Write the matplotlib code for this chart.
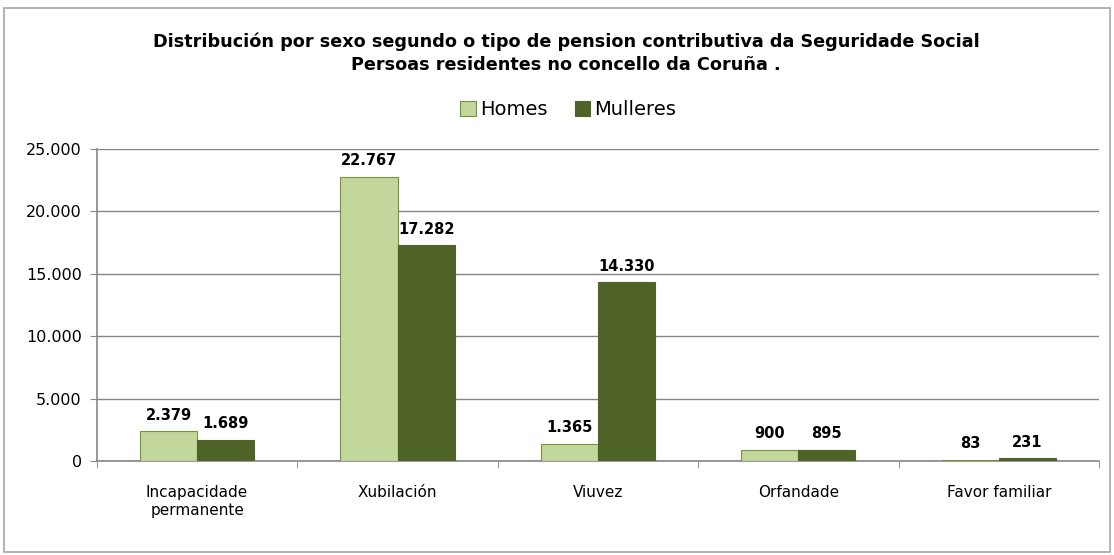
import matplotlib.pyplot as plt
import numpy as np
from matplotlib.patches import Rectangle

categories = ['Incapacidade\npermanente', 'Xubilación', 'Viuvez', 'Orfandade', 'Favor familiar']
homes = [2379, 22767, 1365, 900, 83]
mulleres = [1689, 17282, 14330, 895, 231]
labels_h = ['2.379', '22.767', '1.365', '900', '83']
labels_m = ['1.689', '17.282', '14.330', '895', '231']
yticks = [0, 5000, 10000, 15000, 20000, 25000]
ytick_labels = ['0', '5.000', '10.000', '15.000', '20.000', '25.000']

c_homes = '#C3D69B'
c_homes_edge = '#76923C'
c_mull = '#4F6228'
grid_c = '#868686'

fig = plt.figure(figsize=(11.14, 5.55), dpi=100)
# outer frame of the chart
fig.patches.append(Rectangle((0.004, 0.005), 0.992, 0.98, transform=fig.transFigure,
                             fill=False, edgecolor='#a6a6a6', linewidth=1.2))

ax = fig.add_axes([0.087, 0.169, 0.8995, 0.5625])
x = np.arange(len(categories))
w = 0.285
ax.bar(x - w / 2, homes, w, color=c_homes, edgecolor=c_homes_edge, linewidth=0.8, label='Homes', zorder=3)
ax.bar(x + w / 2, mulleres, w, color=c_mull, edgecolor=c_mull, linewidth=0.8, label='Mulleres', zorder=3)

for i in range(len(categories)):
    ax.text(x[i] - w / 2, homes[i] + 700, labels_h[i], ha='center', va='bottom',
            fontsize=10.5, fontweight='bold')
    ax.text(x[i] + w / 2, mulleres[i] + 700, labels_m[i], ha='center', va='bottom',
            fontsize=10.5, fontweight='bold')

ax.set_xlim(-0.5, len(categories) - 0.5)
ax.set_ylim(0, 25000)
ax.set_yticks(yticks)
ax.set_yticklabels(ytick_labels, fontsize=11.5)
ax.set_xticks(x)
ax.set_xticklabels(categories, fontsize=11, linespacing=1.3)
ax.tick_params(axis='x', length=0, pad=17)
ax.set_xticks(np.arange(-0.5, len(categories)), minor=True)
ax.tick_params(axis='x', which='minor', length=5, color=grid_c, direction='out')
ax.tick_params(axis='y', length=5, color=grid_c, direction='out', pad=6)
ax.grid(axis='y', color=grid_c, linewidth=1, zorder=0)
for s in ['top', 'right']:
    ax.spines[s].set_visible(False)
ax.spines['left'].set_color(grid_c)
ax.spines['bottom'].set_color(grid_c)
ax.spines['left'].set_linewidth(1.2)
ax.spines['bottom'].set_linewidth(1.2)

fig.text(0.508, 0.925, 'Distribución por sexo segundo o tipo de pension contributiva da Seguridade Social',
         ha='center', va='center', fontsize=12.7, fontweight='bold')
fig.text(0.508, 0.882, 'Persoas residentes no concello da Coruña .',
         ha='center', va='center', fontsize=12.7, fontweight='bold')

fig.legend(loc='center', bbox_to_anchor=(0.51, 0.802), ncol=2, frameon=False,
           handlelength=0.8, handleheight=0.8, handletextpad=0.2,
           columnspacing=1.4, prop={'size': 14})

fig.savefig('out.png', dpi=100)
